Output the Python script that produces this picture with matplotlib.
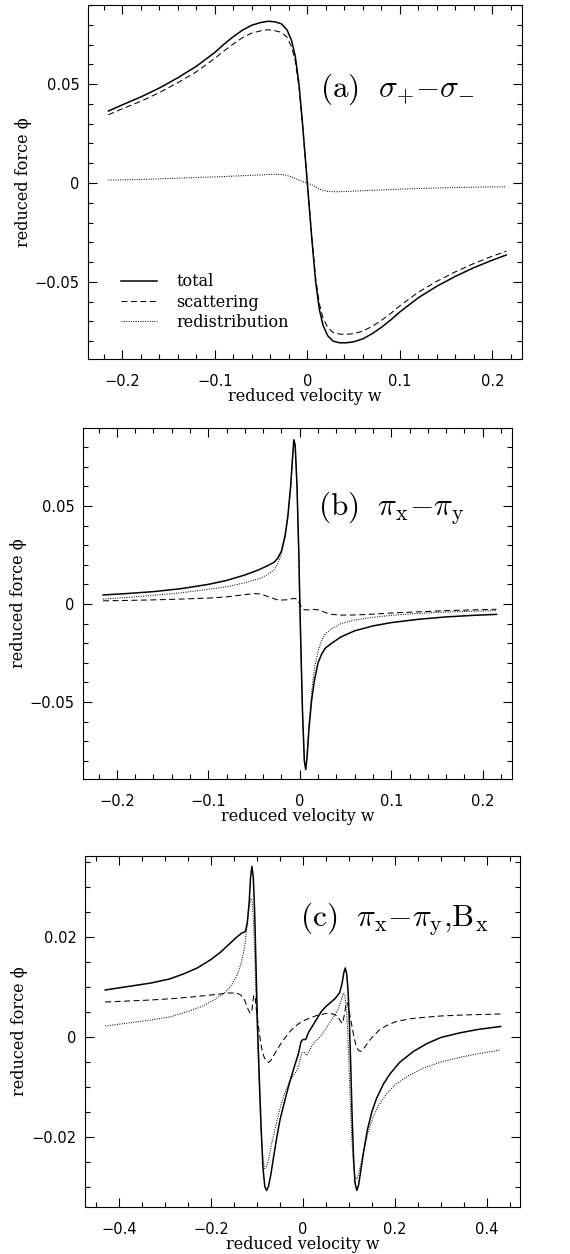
import matplotlib
matplotlib.use("Agg")
import matplotlib.pyplot as plt
from matplotlib.ticker import MultipleLocator, FuncFormatter

plt.rcParams['mathtext.fontset'] = 'cm'
plt.rcParams['lines.scale_dashes'] = False

# ---- panel (a): sigma+ - sigma- ----
a_w = [-0.215, -0.2, -0.18, -0.16, -0.14, -0.12, -0.1, -0.09, -0.08, -0.07, -0.06, -0.05,
       -0.042, -0.035, -0.028, -0.022, -0.017, -0.013, -0.009, -0.005, 0.0,
       0.005, 0.009, 0.013, 0.017, 0.022, 0.028, 0.035, 0.042, 0.05, 0.06, 0.07, 0.08,
       0.09, 0.1, 0.12, 0.14, 0.16, 0.18, 0.2, 0.215]
a_total = [0.0364, 0.0395, 0.0435, 0.048, 0.0532, 0.059, 0.0660, 0.0702, 0.0740, 0.0773, 0.0798, 0.0812,
           0.0818, 0.0815, 0.0805, 0.0775, 0.072, 0.064, 0.050, 0.029, 0.0,
           -0.029, -0.050, -0.064, -0.072, -0.0772, -0.0800, -0.0808, -0.0808, -0.0803, -0.0788, -0.0762, -0.0730,
           -0.0693, -0.0652, -0.0580, -0.0522, -0.0472, -0.0428, -0.0390, -0.0364]
a_scat = [0.0345, 0.0375, 0.0413, 0.0457, 0.0507, 0.0562, 0.0630, 0.0668, 0.0703, 0.0735, 0.0758, 0.0770,
          0.0775, 0.0770, 0.0762, 0.0737, 0.0689, 0.0617, 0.0485, 0.0283, 0.0,
          -0.0280, -0.0480, -0.0610, -0.0683, -0.0730, -0.0756, -0.0764, -0.0765, -0.0762, -0.0749, -0.0725, -0.0695,
          -0.0660, -0.0621, -0.0552, -0.0497, -0.0449, -0.0407, -0.0370, -0.0345]
a_redis = [0.0015, 0.0016, 0.0018, 0.0021, 0.0024, 0.0028, 0.0031, 0.0033, 0.0035, 0.0037, 0.0039, 0.0041,
           0.0043, 0.0044, 0.0043, 0.0038, 0.0031, 0.0023, 0.0015, 0.0007, 0.0,
           -0.0010, -0.0020, -0.0030, -0.0037, -0.0042, -0.0044, -0.0044, -0.0043, -0.0041, -0.0039, -0.0037, -0.0035,
           -0.0033, -0.0031, -0.0028, -0.0025, -0.0023, -0.0021, -0.0020, -0.0019]

# ---- panel (b): pi_x - pi_y ----
b_w = [-0.215, -0.19, -0.16, -0.13, -0.1, -0.08, -0.06, -0.045, -0.035, -0.028, -0.024, -0.02,
       -0.016, -0.013, -0.010, -0.008, -0.0065, -0.005, -0.003, -0.001, 0.0,
       0.001, 0.003, 0.005, 0.0065, 0.008, 0.010, 0.013, 0.016, 0.02, 0.024, 0.028,
       0.035, 0.045, 0.06, 0.08, 0.1, 0.13, 0.16, 0.19, 0.215]
b_total = [0.0046, 0.0053, 0.0063, 0.0078, 0.0100, 0.0120, 0.0148, 0.0174, 0.0196, 0.0213, 0.0234, 0.027,
           0.035, 0.045, 0.060, 0.074, 0.0838, 0.081, 0.060, 0.025, 0.002,
           -0.018, -0.055, -0.080, -0.0845, -0.078, -0.064, -0.049, -0.039, -0.030, -0.0255, -0.0225,
           -0.0200, -0.0168, -0.0137, -0.0112, -0.0095, -0.0078, -0.0066, -0.0058, -0.0053]
b_redis = [0.0025, 0.0033, 0.0044, 0.0057, 0.0075, 0.0088, 0.0108, 0.0128, 0.0150, 0.0175, 0.0205, 0.026,
           0.034, 0.044, 0.059, 0.073, 0.083, 0.080, 0.059, 0.024, 0.001,
           -0.019, -0.056, -0.080, -0.084, -0.077, -0.062, -0.045, -0.033, -0.024, -0.0185, -0.0152,
           -0.0125, -0.0100, -0.0082, -0.0068, -0.0058, -0.0048, -0.0041, -0.0037, -0.0034]
b_w_scat = [-0.215, -0.19, -0.16, -0.13, -0.1, -0.08, -0.06, -0.05, -0.045, -0.04, -0.035, -0.03,
            -0.025, -0.02, -0.015, -0.01, -0.006, -0.003, 0.0, 0.003, 0.006, 0.01, 0.015, 0.02,
            0.025, 0.03, 0.035, 0.045, 0.06, 0.08, 0.1, 0.13, 0.16, 0.19, 0.215]
b_scat = [0.0016, 0.0018, 0.0021, 0.0025, 0.0030, 0.0036, 0.0048, 0.0053, 0.0052, 0.0047, 0.0038, 0.0030,
          0.0022, 0.0020, 0.0021, 0.0026, 0.0028, 0.0025, 0.0, -0.0026, -0.0030, -0.0030, -0.0028, -0.0030,
          -0.0038, -0.0047, -0.0053, -0.0057, -0.0056, -0.0052, -0.0046, -0.0040, -0.0034, -0.0030, -0.0027]

# ---- panel (c): pi_x - pi_y, B_x ----
c_w_total = [-0.43, -0.38, -0.33, -0.29, -0.26, -0.23, -0.20, -0.18, -0.16, -0.145, -0.133, -0.125,
             -0.121, -0.117, -0.114, -0.111, -0.108, -0.105, -0.102, -0.099, -0.095, -0.091, -0.087,
             -0.083, -0.079, -0.075, -0.07, -0.064, -0.057, -0.05, -0.04, -0.03, -0.02, -0.01, -0.004,
             0.0, 0.006, 0.012, 0.02, 0.03, 0.04, 0.05, 0.06, 0.07, 0.08, 0.085, 0.089, 0.092, 0.095,
             0.098, 0.101, 0.104, 0.107, 0.110, 0.113, 0.117, 0.121, 0.126, 0.132, 0.14, 0.15, 0.16,
             0.175, 0.19, 0.21, 0.24, 0.27, 0.3, 0.34, 0.38, 0.43]
c_total = [0.0095, 0.0102, 0.0109, 0.0117, 0.0127, 0.0139, 0.0156, 0.0170, 0.0187, 0.0200, 0.0209, 0.0212,
           0.0230, 0.0270, 0.0320, 0.0342, 0.0320, 0.0250, 0.0140, 0.0030, -0.0080, -0.0180, -0.0260,
           -0.0298, -0.0306, -0.0298, -0.0275, -0.0240, -0.0200, -0.0165, -0.0128, -0.0093, -0.0062, -0.0033, -0.0008,
           -0.0004, -0.0004, 0.0010, 0.0022, 0.0037, 0.0052, 0.0062, 0.0070, 0.0078, 0.0090, 0.0108, 0.0130, 0.0139, 0.0128,
           0.0095, 0.0030, -0.0060, -0.0160, -0.0240, -0.0290, -0.0306, -0.0295, -0.0265, -0.0228, -0.0185, -0.0148, -0.0122,
           -0.0093, -0.0072, -0.0050, -0.0028, -0.0012, 0.0000, 0.0009, 0.0016, 0.0022]
c_w_redis = [-0.43, -0.38, -0.33, -0.29, -0.25, -0.22, -0.19, -0.17, -0.155, -0.143, -0.134, -0.127,
             -0.122, -0.118, -0.114, -0.111, -0.108, -0.105, -0.102, -0.099, -0.095, -0.091, -0.087,
             -0.083, -0.079, -0.074, -0.068, -0.06, -0.05, -0.04, -0.03, -0.02, -0.012, -0.006, -0.002,
             0.003, 0.008, 0.013, 0.02, 0.03, 0.04, 0.05, 0.06, 0.07, 0.078, 0.084, 0.088, 0.091, 0.094,
             0.097, 0.100, 0.103, 0.106, 0.110, 0.114, 0.118, 0.123, 0.13, 0.14, 0.15, 0.165, 0.18,
             0.2, 0.23, 0.26, 0.3, 0.35, 0.39, 0.43]
c_redis = [0.0023, 0.0029, 0.0035, 0.0041, 0.0052, 0.0062, 0.0077, 0.0090, 0.0105, 0.0125, 0.0150, 0.0180,
           0.0220, 0.0255, 0.0278, 0.0275, 0.0240, 0.0170, 0.0080, 0.0000, -0.0100, -0.0190, -0.0245,
           -0.0262, -0.0258, -0.0240, -0.0212, -0.0180, -0.0142, -0.0112, -0.0090, -0.0075, -0.0064, -0.0045, -0.0030,
           -0.0030, -0.0036, -0.0028, -0.0016, -0.0005, 0.0004, 0.0018, 0.0032, 0.0046, 0.0060, 0.0078, 0.0089, 0.0085, 0.0060,
           0.0020, -0.0050, -0.0130, -0.0200, -0.0255, -0.0283, -0.0282, -0.0265, -0.0235, -0.0195, -0.0165, -0.0135, -0.0115,
           -0.0095, -0.0076, -0.0062, -0.0049, -0.0038, -0.0031, -0.0025]
c_w_scat = [-0.43, -0.38, -0.33, -0.28, -0.23, -0.19, -0.16, -0.145, -0.135, -0.127, -0.12, -0.115,
            -0.111, -0.107, -0.104, -0.100, -0.095, -0.09, -0.085, -0.08, -0.075, -0.07, -0.06, -0.05,
            -0.04, -0.03, -0.02, -0.01, 0.0, 0.015, 0.03, 0.05, 0.065, 0.075, 0.082, 0.086, 0.09, 0.094,
            0.097, 0.100, 0.105, 0.110, 0.115, 0.12, 0.125, 0.13, 0.14, 0.15, 0.165, 0.18, 0.2, 0.23,
            0.26, 0.3, 0.35, 0.43]
c_scat = [0.0071, 0.0073, 0.0075, 0.0078, 0.0082, 0.0086, 0.0089, 0.0089, 0.0085, 0.0075, 0.0058, 0.0048,
          0.0055, 0.0085, 0.0080, 0.0045, 0.0010, -0.0020, -0.0038, -0.0047, -0.0050, -0.0046, -0.0030, -0.0015,
          -0.0002, 0.0010, 0.0020, 0.0027, 0.0033, 0.0039, 0.0044, 0.0048, 0.0047, 0.0043, 0.0032, 0.0028, 0.0045, 0.0070,
          0.0068, 0.0055, 0.0030, 0.0005, -0.0015, -0.0025, -0.0028, -0.0025, -0.0012, 0.0000, 0.0014, 0.0023, 0.0031, 0.0037,
          0.0040, 0.0043, 0.0045, 0.0047]

labels = ['total', 'scattering', 'redistribution']
lab_font = dict(family='DejaVu Serif', size=11.5)


def fmt(v, pos):
    s = '%g' % round(v, 6)
    return s.replace('-', '\u2212')


def style_axes(ax, xmaj, xmin, ymaj, ymin):
    ax.xaxis.set_major_locator(MultipleLocator(xmaj))
    ax.xaxis.set_minor_locator(MultipleLocator(xmin))
    ax.yaxis.set_major_locator(MultipleLocator(ymaj))
    ax.yaxis.set_minor_locator(MultipleLocator(ymin))
    ax.xaxis.set_major_formatter(FuncFormatter(fmt))
    ax.yaxis.set_major_formatter(FuncFormatter(fmt))
    ax.tick_params(which='both', direction='in', top=True, right=True, width=0.8)
    ax.tick_params(which='major', length=6.5)
    ax.tick_params(which='minor', length=3.3)
    ax.tick_params(axis='x', which='major', pad=11, labelsize=10.5)
    ax.tick_params(axis='y', which='major', pad=6, labelsize=10.5)
    for sp in ax.spines.values():
        sp.set_linewidth(0.8)
    ax.set_xlabel('reduced velocity w', fontdict=lab_font)
    ax.set_ylabel('reduced force \u03d5', fontdict=lab_font)
    ax.xaxis.set_label_coords(0.5, -0.082)
    ax.yaxis.set_label_coords(-0.13, 0.5)


fig = plt.figure(figsize=(5.7, 12.54), dpi=100)
ax1 = fig.add_axes([0.1544, 0.7137, 0.7614, 0.2823])
ax2 = fig.add_axes([0.1456, 0.3788, 0.7526, 0.2799])
ax3 = fig.add_axes([0.1491, 0.0375, 0.7632, 0.2799])

solid = dict(color='black', lw=1.1, ls='-')
dash = dict(color='black', lw=0.75, dashes=(4.3, 2.5))
dot = dict(color='black', lw=0.75, dashes=(0.7, 1.0))

# (a)
ax1.plot(a_w, a_total, label=labels[0], **solid)
ax1.plot(a_w, a_scat, label=labels[1], **dash)
ax1.plot(a_w, a_redis, label=labels[2], **dot)
ax1.set_xlim(-0.237, 0.232)
ax1.set_ylim(-0.089, 0.09)
style_axes(ax1, 0.1, 0.02, 0.05, 0.01)
ax1.legend(loc='lower left', bbox_to_anchor=(0.075, 0.08), frameon=False,
           prop=lab_font, handlelength=2.3, handletextpad=1.2, labelspacing=0.2,
           borderpad=0, borderaxespad=0)
ax1.text(0.535, 0.763, r'$\mathrm{(a)}\ \ \sigma_{+}{-}\sigma_{-}$', transform=ax1.transAxes,
         fontsize=22.5, ha='left', va='center')

# (b)
ax2.plot(b_w, b_total, **solid)
ax2.plot(b_w_scat, b_scat, **dash)
ax2.plot(b_w, b_redis, **dot)
ax2.set_xlim(-0.237, 0.232)
ax2.set_ylim(-0.0893, 0.0898)
style_axes(ax2, 0.1, 0.02, 0.05, 0.01)
ax2.text(0.548, 0.772, r'$\mathrm{(b)}\ \ \pi_{\mathrm{x}}{-}\pi_{\mathrm{y}}$', transform=ax2.transAxes,
         fontsize=22.5, ha='left', va='center')

# (c)
ax3.plot(c_w_total, c_total, **solid)
ax3.plot(c_w_scat, c_scat, **dash)
ax3.plot(c_w_redis, c_redis, **dot)
ax3.set_xlim(-0.474, 0.472)
ax3.set_ylim(-0.0339, 0.0363)
style_axes(ax3, 0.2, 0.05, 0.02, 0.005)
ax3.text(0.494, 0.818, r'$\mathrm{(c)}\ \ \pi_{\mathrm{x}}{-}\pi_{\mathrm{y}}{,}\mathrm{B}_{\mathrm{x}}$',
         transform=ax3.transAxes, fontsize=22.5, ha='left', va='center')

fig.savefig('out.png', dpi=100)
